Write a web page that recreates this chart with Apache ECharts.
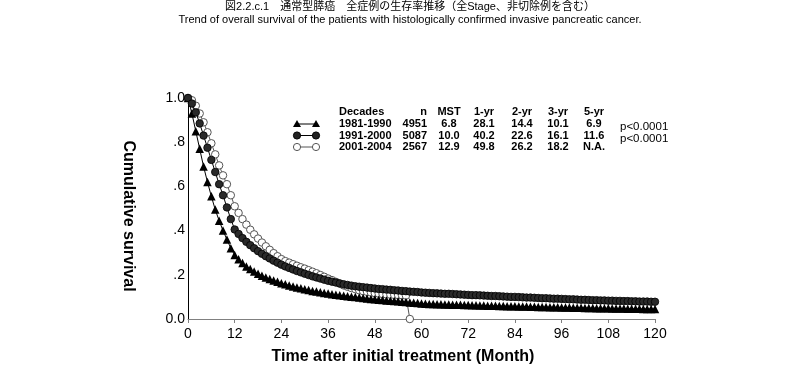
<!DOCTYPE html>
<html><head><meta charset="utf-8">
<script src="https://cdn.jsdelivr.net/npm/echarts@6/dist/echarts.min.js"></script>
<style>html,body{margin:0;padding:0;background:#fff}#c{width:800px;height:370px}</style>
</head><body><div id="c"></div><script>
// ---- text ----
const titleJa = '図2.2.c.1　通常型膵癌　全症例の生存率推移（全Stage、非切除例を含む）';
const titleEn = 'Trend of overall survival of the patients with histologically confirmed invasive pancreatic cancer.';
const xAxisName = 'Time after initial treatment (Month)';
const yAxisName = 'Cumulative survival';
const yTickLabels = ['0.0', '.2', '.4', '.6', '.8', '1.0'];

// ---- legend table ----
const tableHeader = ['Decades', 'n', 'MST', '1-yr', '2-yr', '3-yr', '5-yr'];
const decades = ['1981-1990', '1991-2000', '2001-2004'];
const nPatients = ['4951', '5087', '2567'];
const mst = ['6.8', '10.0', '12.9'];
const yr1 = ['28.1', '40.2', '49.8'];
const yr2 = ['14.4', '22.6', '26.2'];
const yr3 = ['10.1', '16.1', '18.2'];
const yr5 = ['6.9', '11.6', 'N.A.'];
const pValues = ['p<0.0001', 'p<0.0001'];

// ---- survival by month (index = month) ----
const surv1981 = [
  1.0, 0.93, 0.85, 0.77, 0.69, 0.62, 0.555, 0.495, 0.445, 0.40, 0.36, 0.32, 0.290,
  0.270, 0.253, 0.238, 0.226, 0.215, 0.205, 0.196, 0.188, 0.181, 0.174, 0.168, 0.162,
  0.157, 0.152, 0.147, 0.143, 0.139, 0.135, 0.131, 0.127, 0.124, 0.121, 0.118, 0.115,
  0.112, 0.110, 0.107, 0.105, 0.103, 0.101, 0.099, 0.097, 0.095, 0.093, 0.091, 0.089,
  0.087, 0.086, 0.084, 0.083, 0.081, 0.080, 0.078, 0.077, 0.075, 0.074, 0.072, 0.070,
  0.0688, 0.068, 0.0675, 0.067, 0.0665, 0.066, 0.0655, 0.065, 0.0645, 0.064, 0.0635, 0.063,
  0.0625, 0.062, 0.0615, 0.061, 0.0605, 0.060, 0.0595, 0.059, 0.0585, 0.058, 0.0578, 0.0575,
  0.057, 0.0565, 0.056, 0.0556, 0.0552, 0.0548, 0.0544, 0.054, 0.0536, 0.0532, 0.0528, 0.0524,
  0.052, 0.0516, 0.0512, 0.0508, 0.0504, 0.050, 0.0497, 0.0494, 0.0491, 0.0488, 0.0485, 0.0482,
  0.048, 0.0477, 0.0474, 0.0471, 0.0468, 0.0465, 0.0462, 0.046, 0.0457, 0.0455, 0.0452, 0.045
];
const surv1991 = [
  1.0, 0.975, 0.935, 0.885, 0.83, 0.775, 0.72, 0.665, 0.61, 0.56, 0.505, 0.452, 0.405,
  0.385, 0.366, 0.349, 0.334, 0.320, 0.307, 0.295, 0.284, 0.274, 0.264, 0.255, 0.246,
  0.238, 0.231, 0.224, 0.217, 0.211, 0.205, 0.199, 0.193, 0.188, 0.183, 0.178, 0.173,
  0.169, 0.165, 0.161, 0.157, 0.154, 0.151, 0.148, 0.146, 0.144, 0.142, 0.140, 0.138,
  0.136, 0.135, 0.133, 0.132, 0.130, 0.129, 0.127, 0.126, 0.124, 0.123, 0.122, 0.120,
  0.119, 0.118, 0.117, 0.116, 0.115, 0.114, 0.114, 0.113, 0.112, 0.111, 0.110, 0.109,
  0.108, 0.108, 0.107, 0.106, 0.105, 0.104, 0.104, 0.103, 0.102, 0.101, 0.100, 0.100,
  0.099, 0.098, 0.097, 0.097, 0.096, 0.095, 0.094, 0.094, 0.093, 0.092, 0.092, 0.091,
  0.090, 0.089, 0.089, 0.088, 0.087, 0.087, 0.086, 0.085, 0.085, 0.084, 0.084, 0.083,
  0.083, 0.082, 0.082, 0.081, 0.081, 0.080, 0.080, 0.079, 0.079, 0.079, 0.078, 0.078
];
const surv2001 = [
  1.0, 0.99, 0.965, 0.93, 0.89, 0.845, 0.795, 0.745, 0.695, 0.65, 0.61, 0.56, 0.51,
  0.480, 0.452, 0.427, 0.404, 0.383, 0.364, 0.346, 0.329, 0.313, 0.298, 0.284, 0.271,
  0.262, 0.255, 0.248, 0.241, 0.234, 0.228, 0.221, 0.214, 0.207, 0.199, 0.191, 0.183,
  0.176, 0.168, 0.160, 0.152, 0.146, 0.140, 0.135, 0.130, 0.126, 0.123, 0.120, 0.117,
  0.115, 0.113, 0.111, 0.110, 0.109, 0.108, 0.107, 0.106, 0
];
// line ends slightly past the last plotted month
const tailMonth = 122;

const toPairs = (arr, tail) => {
  const d = arr.map((v, i) => [i, v]);
  if (tail) d.push({ value: [tailMonth, arr[arr.length - 1]], symbol: 'none' });
  return d;
};

const FONT = '"Liberation Sans", Arial, sans-serif';
const chart = echarts.init(document.getElementById('c'), null, { renderer: 'canvas' });

// legend table graphics
const rowsY = [124, 135.5, 147];
const headerY = 112;
const g = [];
const cell = (text, x, y, align, extra) => g.push({
  type: 'text', x, y, silent: true,
  style: Object.assign({ text, fill: '#000', font: 'bold 11px ' + FONT, textAlign: align, textVerticalAlign: 'middle' }, extra || {})
});
const colDef = [
  { x: 339, align: 'left', vals: decades },
  { x: 427, align: 'right', vals: nPatients },
  { x: 449, align: 'center', vals: mst },
  { x: 484, align: 'center', vals: yr1 },
  { x: 522, align: 'center', vals: yr2 },
  { x: 558, align: 'center', vals: yr3 },
  { x: 594, align: 'center', vals: yr5 }
];
colDef.forEach((c, ci) => {
  cell(tableHeader[ci], c.x, headerY, c.align);
  c.vals.forEach((v, ri) => cell(v, c.x, rowsY[ri], c.align));
});
pValues.forEach((p, i) => cell(p, 620, rowsY[i] + 3, 'left', { font: '11.5px ' + FONT }));

// legend symbols
const lx1 = 297, lx2 = 316;
const tri = (cx, cy) => ({ type: 'polygon', silent: true, shape: { points: [[cx, cy - 4], [cx - 4, cy + 3], [cx + 4, cy + 3]] }, style: { fill: '#000' } });
const circ = (cx, cy, fill, stroke) => ({ type: 'circle', silent: true, shape: { cx, cy, r: 3.6 }, style: { fill, stroke, lineWidth: 1 } });
const line = (y, col) => ({ type: 'line', silent: true, shape: { x1: lx1, y1: y, x2: lx2, y2: y }, style: { stroke: col, lineWidth: 1 } });
g.push(line(rowsY[0], '#000'), tri(lx1, rowsY[0]), tri(lx2, rowsY[0]));
g.push(line(rowsY[1], '#000'), circ(lx1, rowsY[1], '#222', '#000'), circ(lx2, rowsY[1], '#222', '#000'));
g.push(line(rowsY[2], '#555'), circ(lx1, rowsY[2], '#fff', '#555'), circ(lx2, rowsY[2], '#fff', '#555'));

// titles and axis names
g.push({ type: 'text', x: 410, y: 7, silent: true, style: { text: titleJa, fill: '#000', font: '11px "Liberation Sans", "Noto Sans CJK JP", sans-serif', textAlign: 'center', textVerticalAlign: 'middle' } });
g.push({ type: 'text', x: 410, y: 20, silent: true, style: { text: titleEn, fill: '#000', font: '11px ' + FONT, textAlign: 'center', textVerticalAlign: 'middle' } });
g.push({ type: 'text', x: 403, y: 357, silent: true, style: { text: xAxisName, fill: '#000', font: 'bold 16px ' + FONT, textAlign: 'center', textVerticalAlign: 'middle' } });
g.push({ type: 'text', x: 128, y: 216, rotation: -Math.PI / 2, silent: true, style: { text: yAxisName, fill: '#000', font: 'bold 16px ' + FONT, textAlign: 'center', textVerticalAlign: 'middle' } });

chart.setOption({
  animation: false,
  backgroundColor: '#fff',
  grid: { left: 188, right: 145, top: 98, bottom: 51, containLabel: false },
  xAxis: {
    type: 'value', min: 0, max: 120, interval: 12,
    axisLine: { show: true, lineStyle: { color: '#808080', width: 1 } },
    axisTick: { show: true, length: 4, lineStyle: { color: '#808080' } },
    axisLabel: { color: '#000', fontSize: 14, fontFamily: FONT, margin: 8 },
    splitLine: { show: false }
  },
  yAxis: {
    type: 'value', min: 0, max: 1, interval: 0.2,
    axisLine: { show: true, lineStyle: { color: '#000', width: 1 } },
    axisTick: { show: false },
    axisLabel: { color: '#000', fontSize: 14, fontFamily: FONT, margin: 3, formatter: v => yTickLabels[Math.round(v * 5)] },
    splitLine: { show: false }
  },
  series: [
    {
      name: decades[2], type: 'line', data: toPairs(surv2001, false), z: 2, clip: false,
      symbol: 'circle', symbolSize: 7.5, showAllSymbol: true,
      lineStyle: { color: '#555', width: 1 },
      itemStyle: { color: '#fff', borderColor: '#555', borderWidth: 1 }
    },
    {
      name: decades[0], type: 'line', data: toPairs(surv1981, true), z: 3, clip: false,
      symbol: 'triangle', symbolSize: 8.5, showAllSymbol: true,
      lineStyle: { color: '#000', width: 1 },
      itemStyle: { color: '#000' }
    },
    {
      name: decades[1], type: 'line', data: toPairs(surv1991, true), z: 4, clip: false,
      symbol: 'circle', symbolSize: 7.5, showAllSymbol: true,
      lineStyle: { color: '#000', width: 1 },
      itemStyle: { color: '#2a2a2a', borderColor: '#000', borderWidth: 0.8 }
    }
  ],
  graphic: g
});
</script></body></html>
